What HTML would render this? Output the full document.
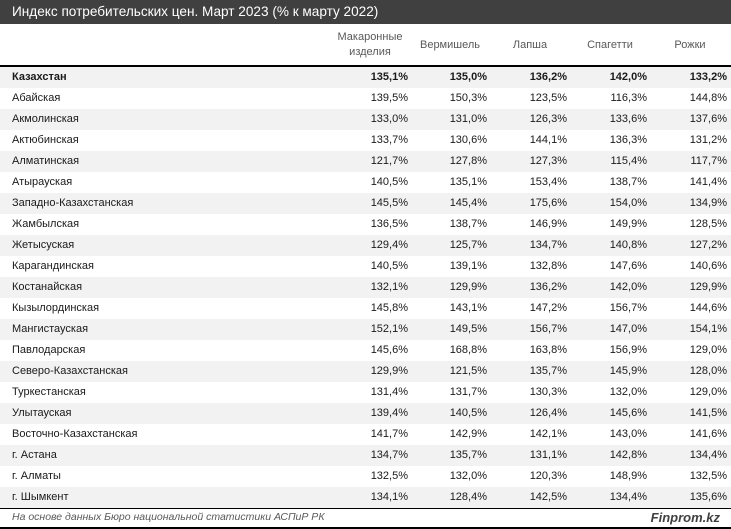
<!DOCTYPE html>
<html><head><meta charset="utf-8">
<style>
*{margin:0;padding:0;box-sizing:border-box}
body{width:731px;height:529px;background:#fff;position:relative;overflow:hidden;font-family:"Liberation Sans","DejaVu Sans",sans-serif;color:#1a1a1a}
.title{position:absolute;left:0;top:0;width:731px;height:24px;background:#404040;color:#fff;font-size:13.6px;line-height:24px;padding-left:12px;white-space:nowrap}
.hdr{position:absolute;top:24px;height:42px;width:80px;text-align:center;color:#595959;font-size:11px;line-height:15px;display:flex;align-items:center;justify-content:center}
.line{position:absolute;left:0;width:731px;background:#000}
.row{position:absolute;left:0;width:731px;height:21px;font-size:11px;line-height:21px}
.row.g{background:#f2f2f2}
.row span{position:absolute;white-space:nowrap}
.row .n{left:12px}
.row .c{text-align:right;width:70px}
.row.b{font-weight:bold}
.foot{position:absolute;top:508px;left:12px;font-size:10.5px;line-height:18px;font-style:italic;color:#595959;white-space:nowrap}
.brand{position:absolute;top:508px;right:11px;font-size:13px;line-height:19px;font-style:italic;font-weight:bold;color:#404040}
</style></head><body>
<div class="title">Индекс потребительских цен. Март 2023 (% к марту 2022)</div>
<div class="hdr" style="left:330px">Макаронные<br>изделия</div>
<div class="hdr" style="left:410px">Вермишель</div>
<div class="hdr" style="left:490px">Лапша</div>
<div class="hdr" style="left:570px">Спагетти</div>
<div class="hdr" style="left:650px">Рожки</div>
<div class="line" style="top:65px;height:2px"></div>

<div class="row g b" style="top:67px"><span class="n">Казахстан</span><span class="c" style="left:338px">135,1%</span><span class="c" style="left:417px">135,0%</span><span class="c" style="left:497px">136,2%</span><span class="c" style="left:577px">142,0%</span><span class="c" style="left:657px">133,2%</span></div>
<div class="row" style="top:88px"><span class="n">Абайская</span><span class="c" style="left:338px">139,5%</span><span class="c" style="left:417px">150,3%</span><span class="c" style="left:497px">123,5%</span><span class="c" style="left:577px">116,3%</span><span class="c" style="left:657px">144,8%</span></div>
<div class="row g" style="top:109px"><span class="n">Акмолинская</span><span class="c" style="left:338px">133,0%</span><span class="c" style="left:417px">131,0%</span><span class="c" style="left:497px">126,3%</span><span class="c" style="left:577px">133,6%</span><span class="c" style="left:657px">137,6%</span></div>
<div class="row" style="top:130px"><span class="n">Актюбинская</span><span class="c" style="left:338px">133,7%</span><span class="c" style="left:417px">130,6%</span><span class="c" style="left:497px">144,1%</span><span class="c" style="left:577px">136,3%</span><span class="c" style="left:657px">131,2%</span></div>
<div class="row g" style="top:151px"><span class="n">Алматинская</span><span class="c" style="left:338px">121,7%</span><span class="c" style="left:417px">127,8%</span><span class="c" style="left:497px">127,3%</span><span class="c" style="left:577px">115,4%</span><span class="c" style="left:657px">117,7%</span></div>
<div class="row" style="top:172px"><span class="n">Атырауская</span><span class="c" style="left:338px">140,5%</span><span class="c" style="left:417px">135,1%</span><span class="c" style="left:497px">153,4%</span><span class="c" style="left:577px">138,7%</span><span class="c" style="left:657px">141,4%</span></div>
<div class="row g" style="top:193px"><span class="n">Западно-Казахстанская</span><span class="c" style="left:338px">145,5%</span><span class="c" style="left:417px">145,4%</span><span class="c" style="left:497px">175,6%</span><span class="c" style="left:577px">154,0%</span><span class="c" style="left:657px">134,9%</span></div>
<div class="row" style="top:214px"><span class="n">Жамбылская</span><span class="c" style="left:338px">136,5%</span><span class="c" style="left:417px">138,7%</span><span class="c" style="left:497px">146,9%</span><span class="c" style="left:577px">149,9%</span><span class="c" style="left:657px">128,5%</span></div>
<div class="row g" style="top:235px"><span class="n">Жетысуская</span><span class="c" style="left:338px">129,4%</span><span class="c" style="left:417px">125,7%</span><span class="c" style="left:497px">134,7%</span><span class="c" style="left:577px">140,8%</span><span class="c" style="left:657px">127,2%</span></div>
<div class="row" style="top:256px"><span class="n">Карагандинская</span><span class="c" style="left:338px">140,5%</span><span class="c" style="left:417px">139,1%</span><span class="c" style="left:497px">132,8%</span><span class="c" style="left:577px">147,6%</span><span class="c" style="left:657px">140,6%</span></div>
<div class="row g" style="top:277px"><span class="n">Костанайская</span><span class="c" style="left:338px">132,1%</span><span class="c" style="left:417px">129,9%</span><span class="c" style="left:497px">136,2%</span><span class="c" style="left:577px">142,0%</span><span class="c" style="left:657px">129,9%</span></div>
<div class="row" style="top:298px"><span class="n">Кызылординская</span><span class="c" style="left:338px">145,8%</span><span class="c" style="left:417px">143,1%</span><span class="c" style="left:497px">147,2%</span><span class="c" style="left:577px">156,7%</span><span class="c" style="left:657px">144,6%</span></div>
<div class="row g" style="top:319px"><span class="n">Мангистауская</span><span class="c" style="left:338px">152,1%</span><span class="c" style="left:417px">149,5%</span><span class="c" style="left:497px">156,7%</span><span class="c" style="left:577px">147,0%</span><span class="c" style="left:657px">154,1%</span></div>
<div class="row" style="top:340px"><span class="n">Павлодарская</span><span class="c" style="left:338px">145,6%</span><span class="c" style="left:417px">168,8%</span><span class="c" style="left:497px">163,8%</span><span class="c" style="left:577px">156,9%</span><span class="c" style="left:657px">129,0%</span></div>
<div class="row g" style="top:361px"><span class="n">Северо-Казахстанская</span><span class="c" style="left:338px">129,9%</span><span class="c" style="left:417px">121,5%</span><span class="c" style="left:497px">135,7%</span><span class="c" style="left:577px">145,9%</span><span class="c" style="left:657px">128,0%</span></div>
<div class="row" style="top:382px"><span class="n">Туркестанская</span><span class="c" style="left:338px">131,4%</span><span class="c" style="left:417px">131,7%</span><span class="c" style="left:497px">130,3%</span><span class="c" style="left:577px">132,0%</span><span class="c" style="left:657px">129,0%</span></div>
<div class="row g" style="top:403px"><span class="n">Улытауская</span><span class="c" style="left:338px">139,4%</span><span class="c" style="left:417px">140,5%</span><span class="c" style="left:497px">126,4%</span><span class="c" style="left:577px">145,6%</span><span class="c" style="left:657px">141,5%</span></div>
<div class="row" style="top:424px"><span class="n">Восточно-Казахстанская</span><span class="c" style="left:338px">141,7%</span><span class="c" style="left:417px">142,9%</span><span class="c" style="left:497px">142,1%</span><span class="c" style="left:577px">143,0%</span><span class="c" style="left:657px">141,6%</span></div>
<div class="row g" style="top:445px"><span class="n">г. Астана</span><span class="c" style="left:338px">134,7%</span><span class="c" style="left:417px">135,7%</span><span class="c" style="left:497px">131,1%</span><span class="c" style="left:577px">142,8%</span><span class="c" style="left:657px">134,4%</span></div>
<div class="row" style="top:466px"><span class="n">г. Алматы</span><span class="c" style="left:338px">132,5%</span><span class="c" style="left:417px">132,0%</span><span class="c" style="left:497px">120,3%</span><span class="c" style="left:577px">148,9%</span><span class="c" style="left:657px">132,5%</span></div>
<div class="row g" style="top:487px"><span class="n">г. Шымкент</span><span class="c" style="left:338px">134,1%</span><span class="c" style="left:417px">128,4%</span><span class="c" style="left:497px">142,5%</span><span class="c" style="left:577px">134,4%</span><span class="c" style="left:657px">135,6%</span></div>

<div class="line" style="top:508px;height:1px"></div>
<div class="foot">На основе данных Бюро национальной статистики АСПиР РК</div>
<div class="brand">Finprom.kz</div>
<div class="line" style="top:527px;height:2px"></div>
</body></html>
